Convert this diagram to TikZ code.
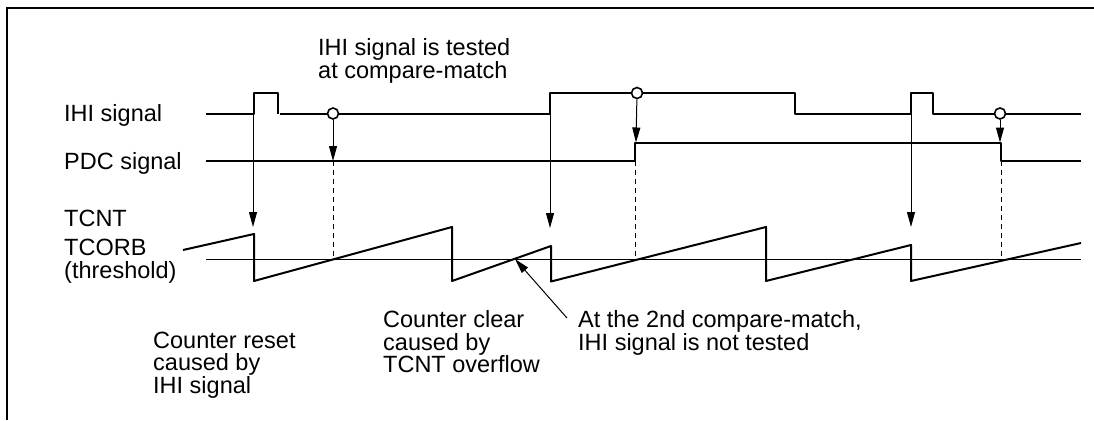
\documentclass[tikz,border=0pt]{standalone}
\usepackage{fontspec}
\setmainfont{Liberation Sans}
\usetikzlibrary{arrows.meta, positioning}

\begin{document}
\begin{tikzpicture}[
  x=1pt, y=-1pt,
  lbl/.style={anchor=base west, inner sep=0pt, align=left, font=\fontsize{23.5}{22}\selectfont},
  wave/.style={line width=2pt, line join=round},
  arr/.style={-{Stealth[inset=0pt, length=15pt, width=8pt]}, line width=1pt},
  dashline/.style={line width=1pt, dash pattern=on 5pt off 4pt},
  probe/.style={circle, draw, fill=white, line width=1.6pt, minimum size=11pt, inner sep=0pt}
]
\useasboundingbox (0,0) rectangle (1094,420);
\draw[line width=2.3pt] (7,420)--(7,8)--(1094,8);
% labels
\node[lbl] (ihi) at (64,121.5) {IHI signal};
\node[lbl] (pdc) at (64,169) {PDC signal};
\node[lbl] (tcnt) at (64,226) {TCNT};
\node[lbl] (tcorb) at (64,255) {TCORB};
\node[lbl] (thr) at (64,278) {(threshold)};
\node[lbl] (tested) at (318,56) {IHI signal is tested};
\node[lbl] (atcm) at (318,78) {at compare-match};
\node[lbl] (reset) at (153,348) {Counter reset};
\node[lbl] (resetb) at (153,370) {caused by};
\node[lbl] (resetc) at (153,393) {IHI signal};
\node[lbl] (clear) at (383,327) {Counter clear};
\node[lbl] (clearb) at (383,350) {caused by};
\node[lbl] (clearc) at (383,372) {TCNT overflow};
\node[lbl] (second) at (578,327) {At the 2nd compare-match,};
\node[lbl] (nottest) at (578,350) {IHI signal is not tested};
% waveforms
\draw[wave] (206,113.5)--(254,113.5)--(254,93)--(278,93)--(278,113.5);
\draw[wave] (280,113.5)--(550,113.5)--(550,93)--(795,93)--(795,113.5)--(911,113.5)--(911,93)--(933,93)--(933,113.5)--(1081,113.5);
\draw[wave] (206,161)--(635,161)--(635,142.5)--(1001,142.5)--(1001,161)--(1081,161);
\draw[line width=1pt] (206,259)--(1081,259);
\draw[wave] (183,250)--(254,234)--(254,281)--(452,227)--(452,281)--(551,246)--(551,281.5)--(766,227)--(766,281)--(911,245)--(911,281)--(1081,243);
% probes and arrows
\node[probe] (pa) at (333,113.5) {};
\node[probe] (pb) at (637,93) {};
\node[probe] (pc) at (1000,113.5) {};
\coordinate (ta) at (333,161);
\coordinate (tb) at (636,142.5);
\coordinate (tc) at (1000,142.5);
\coordinate (ra) at (253,114);
\coordinate (rb) at (550,114);
\coordinate (rc) at (911,114);
\coordinate (sa) at (253,227);
\coordinate (sb) at (550,228);
\coordinate (sc) at (911,227);
\draw[arr] (pa)--(ta); \draw[arr] (pb)--(tb); \draw[arr] (pc)--(tc);
\draw[arr] (ra)--(sa); \draw[arr] (rb)--(sb); \draw[arr] (rc)--(sc);
\coordinate (da) at (333,259);
\coordinate (db) at (635,259);
\coordinate (dc) at (1001,259);
\coordinate (ea) at (635,161);
\coordinate (eb) at (1001,161);
\draw[dashline] (ta)--(da); \draw[dashline] (ea)--(db); \draw[dashline] (eb)--(dc);
\coordinate (leadfrom) at (567,318);
\coordinate (leadto) at (515,259);
\draw[arr] (leadfrom)--(leadto);
\end{tikzpicture}
\end{document}
